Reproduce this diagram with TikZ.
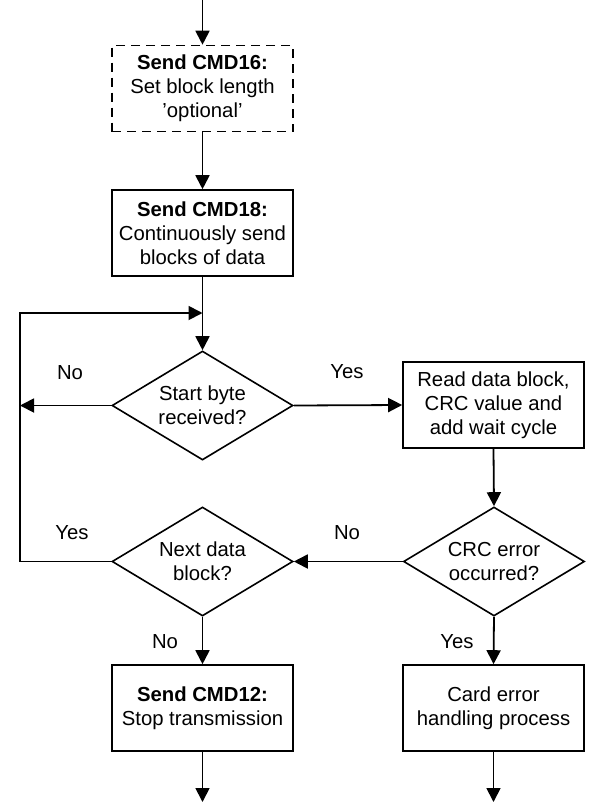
\documentclass[tikz,border=0pt]{standalone}
\usepackage{fontspec}
\setmainfont{Liberation Sans}
\usetikzlibrary{shapes.geometric,arrows.meta}
\begin{document}
\begin{tikzpicture}[x=1pt,y=-1pt,
  font=\fontsize{20.3}{24}\selectfont,
  line width=1.8pt,
  arr/.style={-{Triangle[length=14pt,width=14pt]}},
  procbox/.style={draw,line width=1.6pt,minimum width=181pt,minimum height=86pt,align=center,inner sep=0pt},
  decis/.style={draw,diamond,line width=1.6pt,minimum width=181pt,minimum height=109pt,aspect=1.66,align=center,inner sep=0pt},
  lbl/.style={inner sep=0pt}]
\useasboundingbox (0,0) rectangle (606,807);
\node[procbox,dash pattern=on 9pt off 6pt] (c16) at (202.5,88.5) {\textbf{Send CMD16:}\\Set block length\\'optional'};
\node[procbox] (c18) at (202.5,233) {\textbf{Send CMD18:}\\Continuously send\\blocks of data};
\node[decis] (d1) at (202.5,405.5) {Start byte\\received?};
\node[procbox] (rd) at (493.5,405) {Read data block,\\CRC value and\\add wait cycle};
\node[decis] (d3) at (494,561.5) {CRC error\\occurred?};
\node[decis] (d2) at (202.5,561.5) {Next data\\block?};
\node[procbox] (c12) at (202.5,708) {\textbf{Send CMD12:}\\Stop transmission};
\node[procbox] (ce) at (493.5,708) {Card error\\handling process};
\coordinate (top) at (202.5,0);
\coordinate (lt) at (20,313);
\coordinate (jn) at (202.5,313);
\coordinate (lm) at (20,405.5);
\coordinate (b1) at (202.5,802);
\coordinate (b2) at (493.5,802);
\draw[arr] (top) -- (c16.north);
\draw[arr] (c16.south) -- (c18.north);
\draw[arr] (c18.south) -- (d1.north);
\draw[arr] (d1.west) -- (lm);
\draw[arr] (d1.east) -- (rd.west);
\draw[arr] (rd.south) -- (d3.north);
\draw[arr] (d3.west) -- (d2.east);
\draw[arr] (d2.west) -| (lt) -- (jn);
\draw[arr] (d2.south) -- (c12.north);
\draw[arr] (d3.south) -- (ce.north);
\draw[arr] (c12.south) -- (b1);
\draw[arr] (ce.south) -- (b2);
\node[lbl] (n1) at (70,373) {No};
\node[lbl] (y1) at (347,372) {Yes};
\node[lbl] (y2) at (72,533) {Yes};
\node[lbl] (n2) at (347,533) {No};
\node[lbl] (n3) at (165,642) {No};
\node[lbl] (y3) at (457,642) {Yes};
\end{tikzpicture}
\end{document}
